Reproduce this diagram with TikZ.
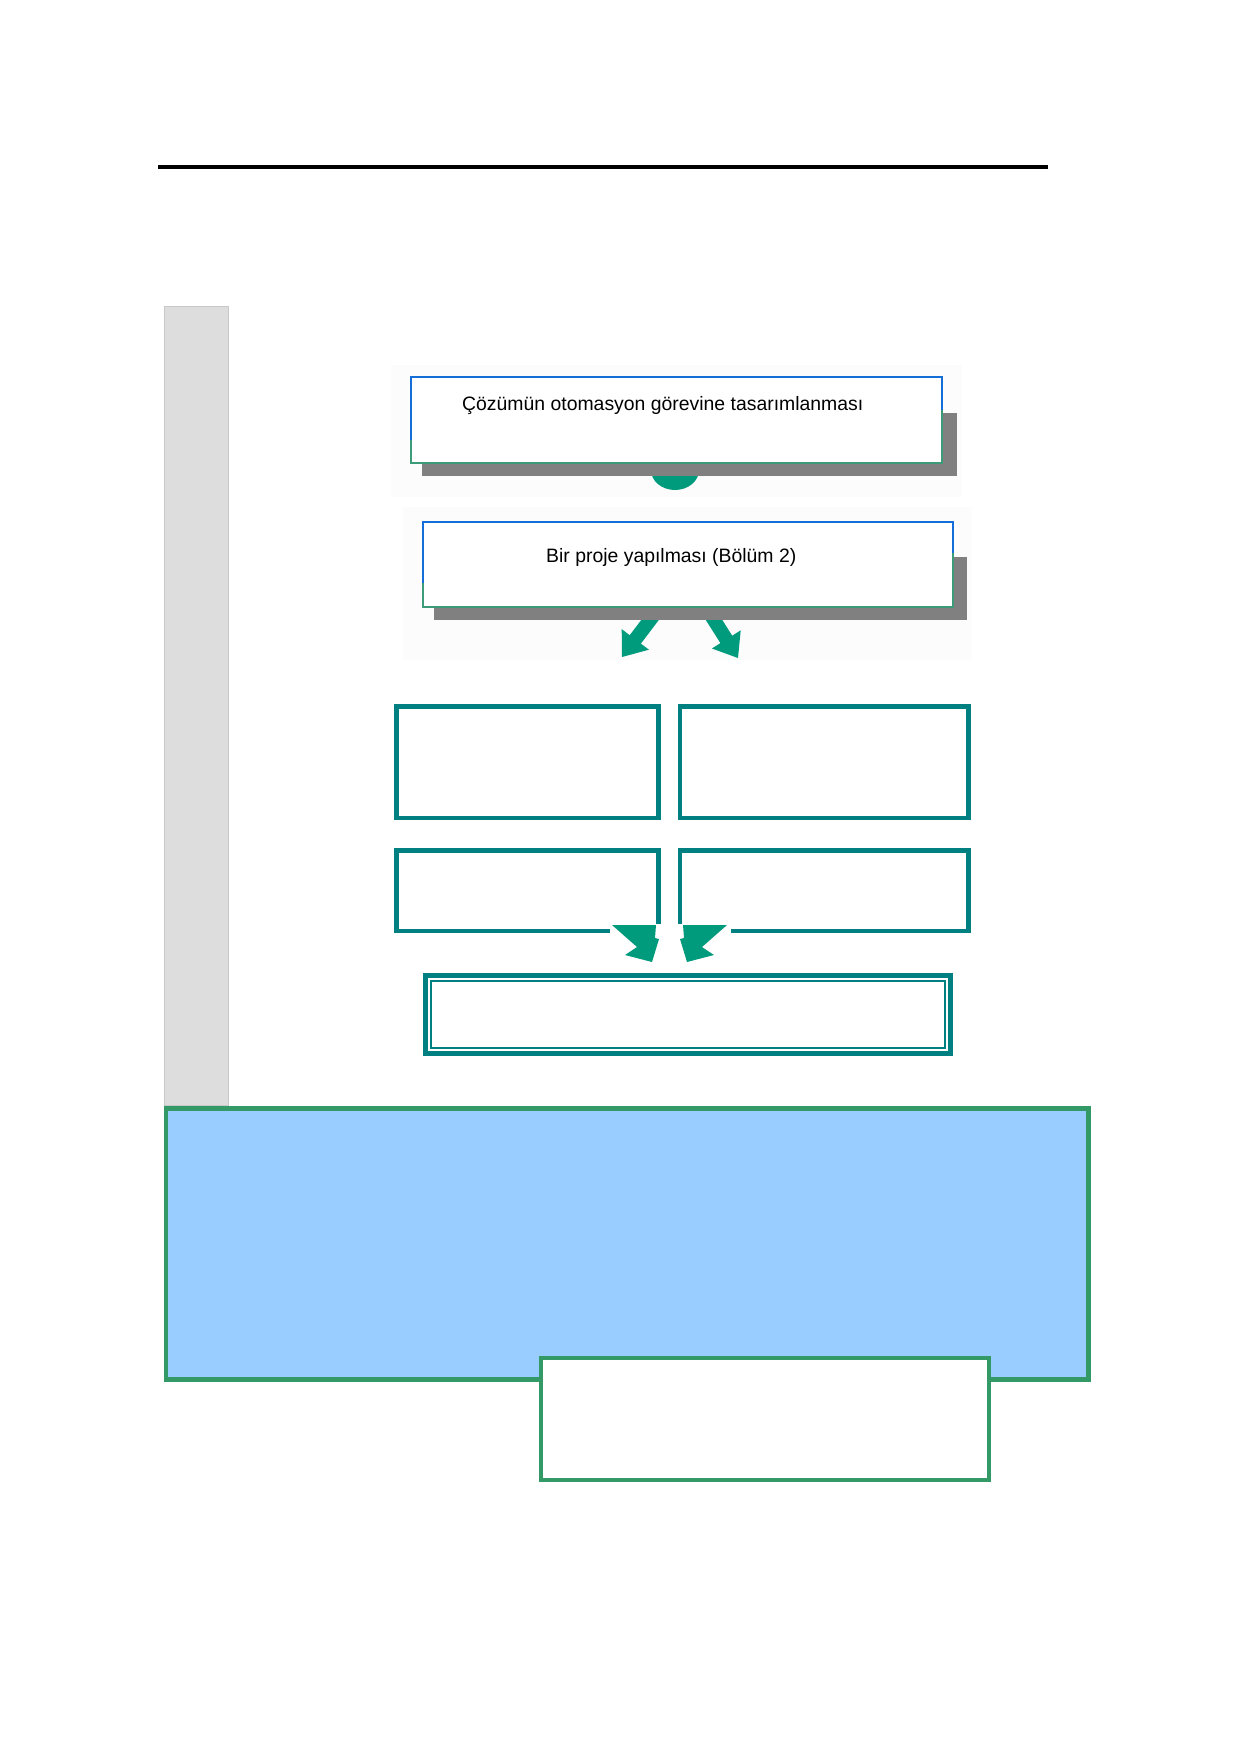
\documentclass[tikz,border=0pt]{standalone}
\usepackage{fontspec}
\setmainfont{Liberation Sans}
\definecolor{tealline}{RGB}{0,128,128}
\definecolor{arrowgreen}{RGB}{0,155,125}
\definecolor{edgeblue}{RGB}{20,110,215}
\definecolor{edgegreen}{RGB}{60,155,120}
\definecolor{shadowgray}{RGB}{128,128,128}
\definecolor{framegreen}{RGB}{51,153,102}
\definecolor{skyfill}{RGB}{153,204,255}
\definecolor{sidegray}{RGB}{221,221,221}
\definecolor{sideedge}{RGB}{200,200,200}
\definecolor{faintbg}{RGB}{252,252,252}
\begin{document}
\begin{tikzpicture}[x=1pt,y=-1pt,
  plainbox/.style={draw=none, fill=white, inner sep=0pt, outer sep=0pt},
  tealbox/.style={draw=tealline, line width=4.5pt, fill=white, inner sep=0pt, outer sep=0pt},
  framebox/.style={draw=framegreen, line width=4.5pt, inner sep=0pt, outer sep=0pt},
  blueedge/.style={draw=edgeblue, line width=2.5pt},
  greenedge/.style={draw=edgegreen, line width=2.5pt},
  blockarrow/.style={fill=arrowgreen, draw=none},
  boxtext/.style={inner sep=0pt, anchor=base west, font=\fontsize{19.4}{22}\selectfont}
]
\useasboundingbox[fill=white] (0,0) rectangle (1240,1754);

% top rule
\coordinate (ruleL) at (158,167);
\coordinate (ruleR) at (1048,167);
\draw[line width=3.5pt] (ruleL) -- (ruleR);

% grey side bar
\node[fill=sidegray, draw=sideedge, line width=1pt, inner sep=0pt, outer sep=0pt,
      minimum width=63.5pt, minimum height=799pt] (side) at (196.25,706) {};

% faint backgrounds behind the two upper boxes
\fill[faintbg] (391,365) rectangle (962,497);
\fill[faintbg] (403,507) rectangle (972,660);

% arrow under box 1 (drawn first, partly hidden)
\fill[blockarrow] (675,470) ellipse (24 and 20);

% box 1
\fill[shadowgray] (422,413) rectangle (957,476);
\node[plainbox, minimum width=531pt, minimum height=86pt] (b1) at (676.5,420) {};
\draw[blueedge] (b1.north west) ++(0,63) -- (b1.north west) -- (b1.north east) -- ++(0,33);
\draw[greenedge] (b1.north west) ++(0,63) -- (b1.south west) -- (b1.south east) -- ++(0,-53);
\node[boxtext] (t1) at (462,410) {Çözümün otomasyon görevine tasarımlanması};

% arrows under box 2
\fill[blockarrow] (659.1,619.6) -- (640.9,643.6) -- (648.9,649.7) -- (622,657)
   -- (621.7,629.1) -- (629.7,635.2) -- (647.9,611.2) -- cycle;
\fill[blockarrow] (716.2,610.3) -- (732.2,635.7) -- (740.7,630.3) -- (738,658)
   -- (711.9,648.5) -- (720.4,643.1) -- (704.4,617.8) -- cycle;

% box 2
\fill[shadowgray] (434,557) rectangle (967,620);
\node[plainbox, minimum width=530pt, minimum height=85pt] (b2) at (688,564.5) {};
\draw[blueedge] (b2.north west) ++(0,61) -- (b2.north west) -- (b2.north east) -- ++(0,31);
\draw[greenedge] (b2.north west) ++(0,61) -- (b2.south west) -- (b2.south east) -- ++(0,-54);
\node[boxtext] (t2) at (546,562) {Bir proje yapılması (Bölüm 2)};

% four teal boxes
\node[tealbox, minimum width=262pt, minimum height=111.5pt] (tl) at (527.25,762) {};
\node[tealbox, minimum width=288.5pt, minimum height=111.5pt] (tr) at (824,762) {};
\node[tealbox, minimum width=262pt, minimum height=80.5pt] (bl) at (527.25,890.5) {};
\node[tealbox, minimum width=288.5pt, minimum height=80.5pt] (br) at (824,890.5) {};

% gap in the lower boxes for the arrows
\fill[white] (610,924) rectangle (731,940);
\fill[blockarrow] (612,925) -- (656,925) -- (655,938) -- (659,939) -- (652,962)
   -- (625,955) -- (637,947) -- cycle;
\fill[blockarrow] (727,925) -- (683,925) -- (684,938) -- (680,939) -- (687,962)
   -- (714,955) -- (702,947) -- cycle;

% double framed box
\node[draw=tealline, line width=5pt, fill=white, inner sep=0pt, outer sep=0pt,
      minimum width=525pt, minimum height=78pt] (db) at (688,1014.5) {};
\draw[tealline, line width=1.5pt] ([shift={(5.5,5.5)}]db.north west) rectangle ([shift={(-5.5,-5.5)}]db.south east);

% blue panel
\node[framebox, fill=skyfill, minimum width=922.5pt, minimum height=271pt] (panel) at (627,1243.75) {};
% white box overlapping the panel
\node[framebox, line width=4pt, fill=white, minimum width=447.5pt, minimum height=121.5pt] (wbox) at (764.75,1418.75) {};
\end{tikzpicture}
\end{document}
